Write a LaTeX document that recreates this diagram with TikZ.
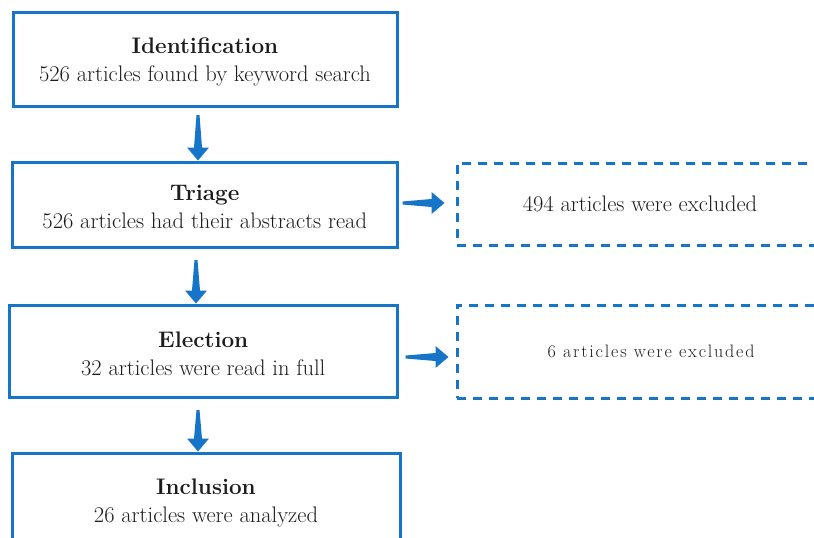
\documentclass[tikz,border=0pt]{standalone}
\usepackage{fontspec}
\newfontfamily\spacedfont[LetterSpace=10]{Latin Modern Roman}
\usetikzlibrary{calc}
\definecolor{pblue}{RGB}{23,117,201}
\definecolor{ptext}{RGB}{28,28,28}
\begin{document}
\begin{tikzpicture}[x=1pt,y=-1pt,
  box/.style={draw=pblue, line width=3pt, rectangle, inner sep=0pt},
  txt/.style={align=center, text=ptext, font=\fontsize{22.5}{28}\selectfont, inner sep=0pt},
  dbox/.style={draw=pblue, line width=3pt, dash pattern=on 9pt off 7pt, rectangle,
    text=ptext, font=\fontsize{22.5}{26}\selectfont, inner sep=0pt},
  flow/.style={fill=pblue, to path={
    ($(\tikztotarget)!13pt!(\tikztostart)$) coordinate (fhb)
    ($(\tikztostart)!1.5pt!90:(\tikztotarget)$)
    -- ($(fhb)!4pt!90:(\tikztotarget)$)
    -- ($(fhb)!11pt!90:(\tikztotarget)$)
    -- (\tikztotarget)
    -- ($(fhb)!11pt!-90:(\tikztotarget)$)
    -- ($(fhb)!4pt!-90:(\tikztotarget)$)
    -- ($(\tikztostart)!1.5pt!-90:(\tikztotarget)$)
    -- cycle}}
]
\useasboundingbox (0,0) rectangle (814,538);
\clip (0,0) rectangle (814,538);

\node[box, minimum width=384pt, minimum height=94pt] (b1) at (205,59) {};
\node[box, minimum width=384.5pt, minimum height=85pt] (b2) at (204.75,204.5) {};
\node[box, minimum width=387.5pt, minimum height=92pt] (b3) at (203.25,351) {};
\node[box, minimum width=388pt, minimum height=95pt] (b4) at (206,500.5) {};

\node[txt] (t1) at ($(b1.center)+(0,2.5)$) {\textbf{Identification}\\526 articles found by keyword search};
\node[txt] (t2) at ($(b2.center)+(0,2.5)$) {\textbf{Triage}\\526 articles had their abstracts read};
\node[txt] (t3) at ($(b3.center)+(0,3)$) {\textbf{Election}\\32 articles were read in full};
\node[txt] (t4) at ($(b4.center)+(0,2.5)$) {\textbf{Inclusion}\\26 articles were analyzed};

\node[dbox, minimum width=366pt, minimum height=82pt] (d1) at (640,204)
  {494 articles were excluded};
\node[dbox, minimum width=388pt, minimum height=93pt] (d2) at (651,351.5)
  {\spacedfont\fontsize{18}{21}\selectfont 6 articles were excluded};

\coordinate (a1s) at (198,115);
\coordinate (a1e) at (b2.north -| a1s);
\coordinate (a2s) at (196,260);
\coordinate (a2e) at (b3.north -| a2s);
\coordinate (a3s) at (198,410);
\coordinate (a3e) at (b4.north -| a3s);
\coordinate (h1s) at ($(b2.east)+(4,-1.5)$);
\coordinate (h1e) at ($(d1.west|-h1s)+(-11,0)$);
\coordinate (h2s) at ($(b3.east)+(7,6)$);
\coordinate (h2e) at ($(d2.west|-h2s)+(-7,0)$);

\path[flow] (a1s) to (a1e);
\path[flow] (a2s) to (a2e);
\path[flow] (a3s) to (a3e);
\path[flow] (h1s) to (h1e);
\path[flow] (h2s) to (h2e);
\end{tikzpicture}
\end{document}
